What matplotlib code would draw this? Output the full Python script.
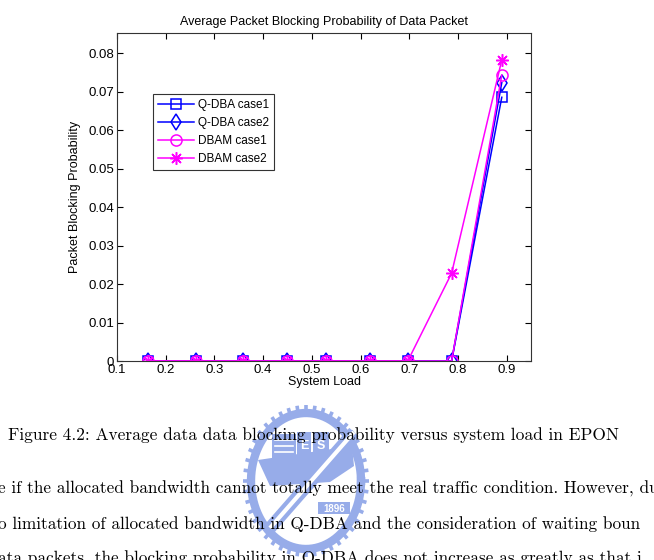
import numpy as np
import matplotlib
matplotlib.use("Agg")
import matplotlib.pyplot as plt
from matplotlib.patches import Rectangle, Polygon
from matplotlib.ticker import FixedLocator, FuncFormatter

# values
system_load = [0.163, 0.263, 0.358, 0.45, 0.53, 0.619, 0.697, 0.787, 0.89]
qdba_case1 = [0, 0, 0, 0, 0, 0, 0, 0, 0.0685]
qdba_case2 = [0, 0, 0, 0, 0, 0, 0, 0, 0.0723]
dbam_case1 = [0, 0, 0, 0, 0, 0, 0, 0, 0.0743]
dbam_case2 = [0, 0, 0, 0, 0, 0, 0, 0.0228, 0.0782]

x_ticks = [0.1, 0.2, 0.3, 0.4, 0.5, 0.6, 0.7, 0.8, 0.9]
y_ticks = [0, 0.01, 0.02, 0.03, 0.04, 0.05, 0.06, 0.07, 0.08]

caption = "Figure 4.2: Average data data blocking probability versus system load in EPON"
body_lines = [
    "e if the allocated bandwidth cannot totally meet the real traffic condition. However, du",
    "o limitation of allocated bandwidth in Q-DBA and the consideration of waiting boun",
    "ata packets, the blocking probability in Q-DBA does not increase as greatly as that i",
]

plt.rcParams['font.family'] = ['Liberation Sans', 'DejaVu Sans']

W, H = 654, 560
fig = plt.figure(figsize=(W / 100, H / 100), dpi=100)

# faint watermark emblem behind the page text (pixel coords)
wm = fig.add_axes([0, 0, 1, 1], zorder=0)
wm.set_xlim(0, W)
wm.set_ylim(H, 0)
wm.axis('off')
logo_c = '#97ace9'
cx, cy, rx, ry = 306, 481, 55, 68
t = np.linspace(0, 2 * np.pi, 200)
wm.plot(cx + rx * np.cos(t), cy + ry * np.sin(t), color=logo_c, lw=6)
for a in np.linspace(0, 2 * np.pi, 44, endpoint=False):
    wm.plot([cx + (rx + 2) * np.cos(a), cx + (rx + 8) * np.cos(a)],
            [cy + (ry + 2) * np.sin(a), cy + (ry + 8) * np.sin(a)],
            color=logo_c, lw=2.6, solid_capstyle='butt')
wm.add_patch(Polygon([(258, 460), (352, 446), (354, 466), (330, 482), (270, 486)], color=logo_c, lw=0))
wm.add_patch(Rectangle((272, 434), 24, 28, color=logo_c, lw=0))
for yy in (440, 446, 452):
    wm.plot([275, 293], [yy, yy], color='white', lw=1.2)
wm.add_patch(Rectangle((297, 432), 14, 28, color=logo_c, lw=0))
wm.add_patch(Rectangle((313, 432), 16, 28, color=logo_c, lw=0))
wm.text(304, 446, 'E', color='white', fontsize=9, ha='center', va='center', fontweight='bold')
wm.text(321, 446, 'S', color='white', fontsize=9, ha='center', va='center', fontweight='bold')
wm.plot([354, 270], [432, 528], color=logo_c, lw=9, solid_capstyle='butt')
wm.plot([354, 270], [432, 528], color='white', lw=3, solid_capstyle='butt')
wm.add_patch(Rectangle((318, 502), 32, 12, color=logo_c, lw=0))
wm.text(334, 508.5, '1896', color='white', fontsize=7, ha='center', va='center', fontweight='bold')

ax = fig.add_axes([117 / W, 1 - 361 / H, (531 - 117) / W, (361 - 33) / H], zorder=1)

blue = (0, 0, 1)
magenta = (1, 0, 1)
ax.plot(system_load, qdba_case1, color=blue, marker='s', mfc='none', ms=7, lw=1.1, mew=1.1, label='Q-DBA case1')
ax.plot(system_load, qdba_case2, color=blue, marker='d', mfc='none', ms=8, lw=1.1, mew=1.1, label='Q-DBA case2')
ax.plot(system_load, dbam_case1, color=magenta, marker='o', mfc='none', ms=8, lw=1.1, mew=1.1, label='DBAM case1')
ax.plot(system_load, dbam_case2, color=magenta, marker=(8, 2, 0), ms=9, lw=1.1, mew=1.1, label='DBAM case2')

ax.set_xlim(0.1, 0.95)
ax.set_ylim(0, 0.0852)
ax.xaxis.set_major_locator(FixedLocator(x_ticks))
ax.yaxis.set_major_locator(FixedLocator(y_ticks))
ax.xaxis.set_major_formatter(FuncFormatter(lambda v, p: f"{v:.1f}"))
ax.yaxis.set_major_formatter(FuncFormatter(lambda v, p: "0" if v == 0 else f"{v:.2f}"))
ax.tick_params(direction='in', top=True, right=True, labelsize=9.5, length=4, width=0.8, pad=2)
for s in ax.spines.values():
    s.set_linewidth(0.8)
    s.set_color('#333333')

ax.set_title("Average Packet Blocking Probability of Data Packet", fontsize=9, pad=6)
ax.set_xlabel("System Load", fontsize=9, labelpad=0)
ax.set_ylabel("Packet Blocking Probability", fontsize=9, labelpad=5)

leg = ax.legend(loc='upper left', bbox_to_anchor=(0.087, 0.814), fontsize=8.5,
                fancybox=False, framealpha=1, edgecolor='#333333', borderpad=0.45,
                labelspacing=0.5, handlelength=3.0, handletextpad=0.35, borderaxespad=0)
leg.get_frame().set_linewidth(0.8)

fig.text(8 / W, 1 - 435 / H, caption, family='cmr10', fontsize=12.5, va='center', ha='left', zorder=3)
for i, line in enumerate(body_lines):
    fig.text(-2 / W, 1 - (489 + 35 * i) / H, line, family='cmr10', fontsize=12.4, va='center', ha='left', zorder=3)

fig.savefig('out.png', dpi=100)
